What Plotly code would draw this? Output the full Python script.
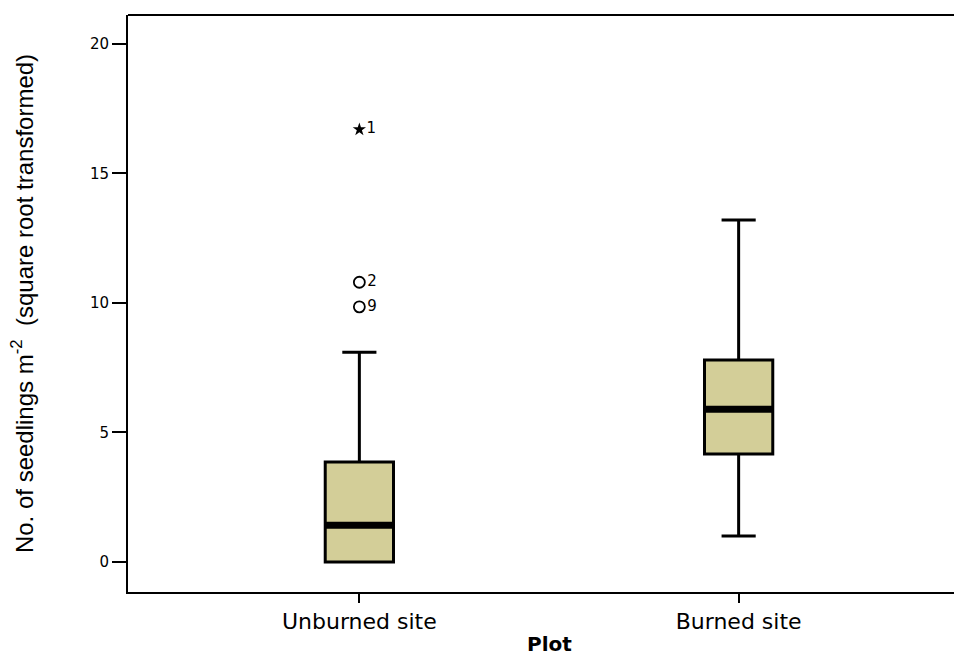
import plotly.graph_objects as go

categories = ["Unburned site", "Burned site"]
lower_whisker = [0.0, 1.0]
q1_vals = [0.0, 4.17]
median_vals = [1.42, 5.9]
q3_vals = [3.86, 7.8]
upper_whisker = [8.1, 13.2]

outlier_cat = [0, 0]
outlier_vals = [10.8, 9.85]
outlier_labels = ["2", "9"]
extreme_cat = [0]
extreme_vals = [16.7]
extreme_labels = ["1"]

y_ticks = [0, 5, 10, 15, 20]

FONT = "DejaVu Sans"
ARIAL = "Liberation Sans, Arial"
fill = "rgb(211,206,152)"
box_w = 0.18

fig = go.Figure()
fig.add_trace(go.Box(
    x=[0, 1], q1=q1_vals, median=median_vals, q3=q3_vals,
    lowerfence=lower_whisker, upperfence=upper_whisker,
    fillcolor=fill, line=dict(color="black", width=3),
    width=box_w, whiskerwidth=0.5, boxpoints=False, showlegend=False,
    hoverinfo="skip"))

# thick median lines
for i, m in enumerate(median_vals):
    fig.add_shape(type="line", x0=i - box_w / 2, x1=i + box_w / 2, y0=m, y1=m,
                  line=dict(color="black", width=7), layer="above")

fig.add_trace(go.Scatter(
    x=outlier_cat, y=outlier_vals, mode="markers+text", text=outlier_labels,
    textposition="middle right",
    marker=dict(symbol="circle-open", size=11, color="black", line=dict(width=1.8)),
    textfont=dict(family=FONT, size=15, color="black"),
    showlegend=False, hoverinfo="skip"))
fig.add_trace(go.Scatter(
    x=extreme_cat, y=extreme_vals, mode="markers+text", text=extreme_labels,
    textposition="middle right",
    marker=dict(symbol="star", size=10, color="black"),
    textfont=dict(family=FONT, size=15, color="black"),
    showlegend=False, hoverinfo="skip"))

# top border of the frame
fig.add_shape(type="line", xref="paper", yref="paper", x0=0, x1=1, y0=1, y1=1,
              line=dict(color="black", width=2))

# x-axis title
fig.add_annotation(text="<b>Plot</b>", xref="paper", yref="paper", x=0.5, y=0,
                   xanchor="center", yanchor="top", yshift=-38, showarrow=False,
                   font=dict(family=FONT, size=20, color="black"))

fig.update_layout(
    width=970, height=655,
    margin=dict(l=128, r=0, t=15, b=63),
    plot_bgcolor="white", paper_bgcolor="white",
    font=dict(family=FONT, color="black"),
    xaxis=dict(
        range=[-0.61, 1.61], tickmode="array", tickvals=[0, 1], ticktext=categories,
        showgrid=False, zeroline=False, showline=True, linecolor="black", linewidth=2,
        ticks="outside", ticklen=9, tickwidth=1.5, tickcolor="black",
        tickfont=dict(size=22), automargin=False),
    yaxis=dict(
        range=[-1.16, 21.12], tickmode="array", tickvals=y_ticks,
        showgrid=False, zeroline=False, showline=True, linecolor="black", linewidth=2,
        ticks="outside", ticklen=14, tickwidth=1.5, tickcolor="black",
        tickfont=dict(size=15), automargin=False,
        title=dict(text="No. of seedlings m<sup>-2</sup>  (square root transformed)",
                   font=dict(family=ARIAL, size=24), standoff=50)),
)

fig.write_html(
    "out.html",
    config={"displayModeBar": False},
    post_script="document.body.style.margin='0';"
                "document.documentElement.style.overflow='hidden';"
                "document.body.style.overflow='hidden';")
